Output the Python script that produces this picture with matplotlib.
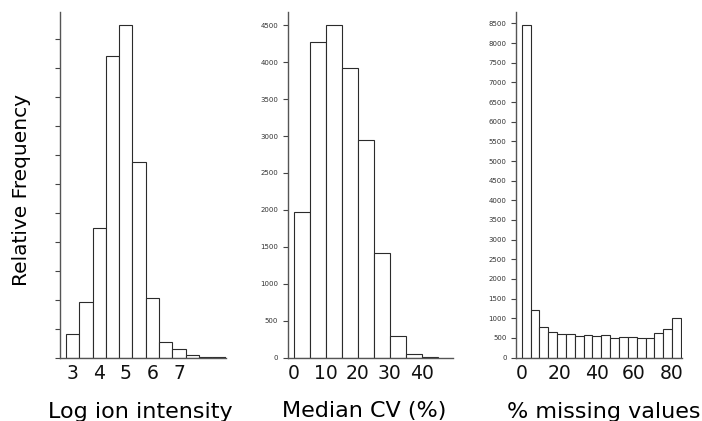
import numpy as np
import matplotlib.pyplot as plt

# bin edges and counts
intensity_edges = np.arange(2.75, 8.76, 0.5)
intensity_counts = [400, 950, 2230, 5210, 5740, 3370, 1020, 265, 143, 35, 12, 6]
intensity_ticks = [3, 4, 5, 6, 7]

cv_edges = np.arange(0, 46, 5)
cv_counts = [1970, 4280, 4510, 3920, 2950, 1420, 290, 45, 10]
cv_ticks = [0, 10, 20, 30, 40]

missing_edges = np.linspace(0, 85, 19)
missing_counts = [8470, 1200, 780, 650, 590, 600, 550, 570, 555, 565,
                  490, 530, 510, 500, 500, 620, 720, 1000]
missing_ticks = [0, 20, 40, 60, 80]

W, H = 702, 421
fig = plt.figure(figsize=(W / 100, H / 100), dpi=100)


def px_axes(x0, x1, y_top=11.7, y_bot=357.5):
    return fig.add_axes([x0 / W, 1 - y_bot / H, (x1 - x0) / W, (y_bot - y_top) / H])


def draw_hist(ax, edges, counts, xticks, xlim, ylim, yticks, show_ylabels, xlabel, xlabel_x):
    edges = np.asarray(edges)
    ax.bar(edges[:-1], counts, width=np.diff(edges), align='edge',
           color='white', edgecolor='#2b2b2b', linewidth=0.8)
    ax.set_xlim(*xlim)
    ax.set_ylim(*ylim)
    for side in ('top', 'right'):
        ax.spines[side].set_visible(False)
    for side in ('left', 'bottom'):
        ax.spines[side].set_color('#555555')
        ax.spines[side].set_linewidth(1.0)
    ax.set_xticks(xticks)
    ax.set_xticklabels([str(t) for t in xticks])
    ax.tick_params(axis='x', length=0, labelsize=13.5, pad=5, colors='#111111')
    ax.set_yticks(yticks)
    ax.tick_params(axis='y', direction='out', length=3.6, width=0.8, color='#444444',
                   labelsize=5, pad=3, labelcolor='#333333', labelleft=show_ylabels)
    fig.text(xlabel_x / W, 1 - 417.5 / H, xlabel, ha='center', va='baseline', fontsize=16)


ax1 = px_axes(60, 225.5)
draw_hist(ax1, intensity_edges, intensity_counts, intensity_ticks,
          (2.525, 8.75), (0, 5970), np.arange(0, 5501, 500), False,
          'Log ion intensity', 140)

ax2 = px_axes(287.5, 453.3)
draw_hist(ax2, cv_edges, cv_counts, cv_ticks,
          (-2.0, 49.8), (0, 4684), np.arange(0, 4501, 500), True,
          'Median CV (%)', 364)

ax3 = px_axes(515.7, 681.5)
draw_hist(ax3, missing_edges, missing_counts, missing_ticks,
          (-3.2, 85.3), (0, 8799), np.arange(0, 8501, 500), True,
          '% missing values', 604)

fig.text(22 / W, 1 - 190 / H, 'Relative Frequency', rotation=90,
         ha='center', va='center', fontsize=14.5)

fig.savefig('out.png', dpi=100)
